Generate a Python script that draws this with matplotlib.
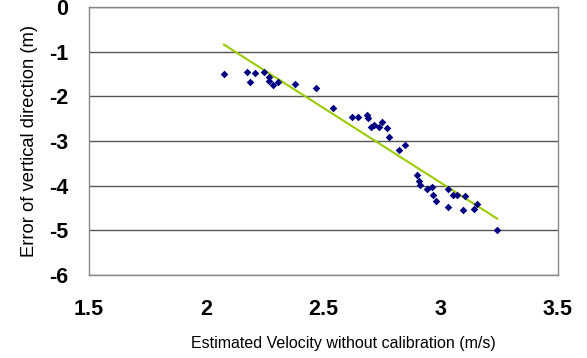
import matplotlib
matplotlib.use('Agg')
import numpy as np
import matplotlib.pyplot as plt

plt.rcParams['font.family'] = ['Liberation Sans', 'DejaVu Sans']

# measured points (estimated velocity, vertical error)
vel = [2.076, 2.175, 2.208, 2.187, 2.246, 2.266, 2.266, 2.286, 2.305, 2.377,
       2.468, 2.539, 2.620, 2.648, 2.687, 2.688, 2.701, 2.715, 2.748, 2.738,
       2.770, 2.779, 2.821, 2.849, 2.900, 2.909, 2.912, 2.943, 2.961, 2.968,
       2.980, 3.032, 3.032, 3.054, 3.071, 3.103, 3.094, 3.142, 3.153, 3.241]
err = [-1.49, -1.45, -1.47, -1.68, -1.45, -1.56, -1.65, -1.74, -1.68, -1.72,
       -1.82, -2.27, -2.47, -2.45, -2.41, -2.48, -2.68, -2.63, -2.57, -2.69,
       -2.70, -2.92, -3.21, -3.09, -3.77, -3.89, -3.98, -4.07, -4.03, -4.20,
       -4.34, -4.07, -4.47, -4.21, -4.21, -4.22, -4.54, -4.52, -4.41, -4.99]

# linear trend line end points
trend_x = [2.076, 3.241]
trend_y = [-0.84, -4.74]

xticks = [1.5, 2, 2.5, 3, 3.5]
yticks = [0, -1, -2, -3, -4, -5, -6]

fig = plt.figure(figsize=(5.87, 3.58), dpi=100)
ax = fig.add_axes([0.1516, 0.232, 0.799, 0.748])

ax.plot(trend_x, trend_y, color='#99cc00', lw=1.5, zorder=2)
ax.scatter(vel, err, marker='D', s=15, color='#000080', zorder=3, linewidths=0)

ax.set_xlim(1.5, 3.5)
ax.set_ylim(-6, 0)
ax.set_xticks(xticks)
ax.set_xticklabels([f'{v:g}' for v in xticks])
ax.set_yticks(yticks)
ax.set_yticklabels([f'{v:g}' for v in yticks])
ax.yaxis.grid(True, color='#555555', lw=1)
ax.set_axisbelow(True)
for s in ax.spines.values():
    s.set_color('#888888')
    s.set_linewidth(1)
ax.tick_params(axis='both', length=0, labelsize=15.5)
ax.tick_params(axis='y', pad=15)
ax.tick_params(axis='x', pad=17)
for lab in ax.get_xticklabels() + ax.get_yticklabels():
    lab.set_fontweight('bold')

fig.text(0.585, 0.04, 'Estimated Velocity without calibration (m/s)',
         fontsize=11.5, ha='center', va='center')
fig.text(0.051, 0.606, 'Error of vertical direction (m)',
         fontsize=13.2, ha='center', va='center', rotation=90)

fig.savefig('out.png', dpi=100)
